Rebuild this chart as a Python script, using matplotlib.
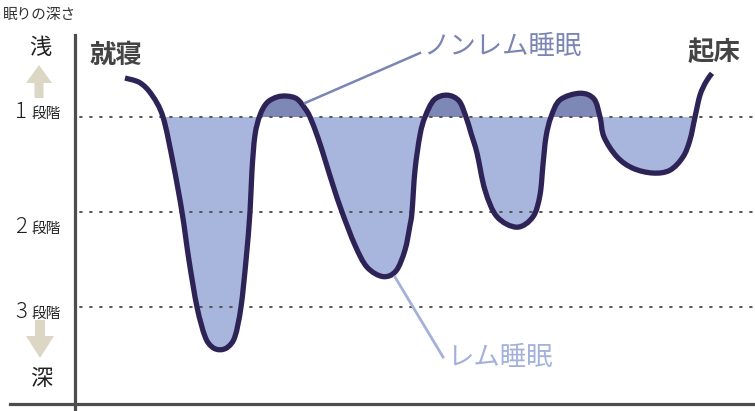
import matplotlib.pyplot as plt
import matplotlib.patches as patches
from matplotlib.path import Path
import numpy as np

plt.rcParams['font.family'] = ['Noto Sans CJK JP', 'DejaVu Sans']
plt.rcParams['lines.scale_dashes'] = False

# 睡眠の深さの推移 (x: 時間, y: 深さ 1=1段階 ... 3=3段階)
sleep_x = [125, 140, 152, 163, 173, 182, 189, 197, 205, 212, 220, 228, 235, 241, 246,
           250, 252, 255, 260, 267, 277, 287, 297, 305, 310, 318, 325, 333, 342, 355,
           367, 383, 396, 405, 410, 412, 415, 420, 425, 434, 447, 459, 466, 471, 477,
           485, 497, 517, 533, 540, 543, 546, 551, 560, 580, 594, 600, 604, 617, 633,
           653, 670, 683, 690, 695, 700, 706, 712]
sleep_depth = [0.59, 0.64, 0.77, 1.00, 1.48, 2.00, 2.51, 3.00, 3.31, 3.42, 3.45, 3.42, 3.31, 3.00, 2.51,
               2.00, 1.56, 1.19, 0.98, 0.85, 0.79, 0.78, 0.81, 0.91, 1.00, 1.22, 1.45, 1.72, 2.00, 2.35,
               2.58, 2.68, 2.62, 2.40, 2.14, 2.00, 1.56, 1.19, 1.00, 0.82, 0.77, 0.83, 1.00, 1.17, 1.38,
               1.77, 2.05, 2.16, 2.05, 1.82, 1.50, 1.21, 1.00, 0.82, 0.75, 0.81, 1.00, 1.21, 1.42, 1.54,
               1.59, 1.56, 1.42, 1.24, 1.00, 0.77, 0.63, 0.54]

stages = [1, 2, 3]
stage_labels = ['1', '2', '3']
fill_start, fill_end = 163, 695

# 色
curve_color = '#2e2356'
light_fill = '#a8b5dc'
dark_fill = '#7e88b6'
axis_color = '#4d4d4d'
arrow_color = '#dcd7c4'


def d(px):
    # ピクセルの縦位置 -> 深さ
    return (px - 22) / 95


def smooth_path(pts, i0, i1, close=False):
    # Catmull-Rom をベジェ曲線に変換
    verts = [pts[i0]]
    codes = [Path.MOVETO]
    n = len(pts)
    for i in range(i0, i1):
        p0 = pts[max(i - 1, 0)]
        p1 = pts[i]
        p2 = pts[i + 1]
        p3 = pts[min(i + 2, n - 1)]
        verts += [p1 + (p2 - p0) / 6, p2 - (p3 - p1) / 6, p2]
        codes += [Path.CURVE4] * 3
    if close:
        verts += [pts[i0], pts[i0]]
        codes += [Path.LINETO, Path.CLOSEPOLY]
    v = np.array(verts)
    v[:, 1] = v[:, 1] / 95
    return Path(v, codes)


fig = plt.figure(figsize=(7.55, 4.11), dpi=100)
ax = fig.add_axes([0, 0, 1, 1])
ax.set_xlim(0, 755)
ax.set_ylim(d(411), d(0))
ax.axis('off')

# 縦横比の違いを吸収するためピクセル空間でスムージング
pts_px = np.column_stack([sleep_x, np.array(sleep_depth) * 95])
i0 = sleep_x.index(fill_start)
i1 = sleep_x.index(fill_end)

curve = smooth_path(pts_px, 0, len(sleep_x) - 1)
area = smooth_path(pts_px, i0, i1, close=True)

# 塗り (1段階より下は薄い色、上は濃い色)
lower = patches.PathPatch(area, facecolor=light_fill, edgecolor='none', zorder=1)
ax.add_patch(lower)
lower.set_clip_path(patches.Rectangle((0, 1), 755, 5, transform=ax.transData))
upper = patches.PathPatch(area, facecolor=dark_fill, edgecolor='none', zorder=1)
ax.add_patch(upper)
upper.set_clip_path(patches.Rectangle((0, -1), 755, 2, transform=ax.transData))

# 点線
for s in stages:
    ax.plot([80, 755], [s, s], color='#555555', linewidth=1.4,
            dashes=(1.3, 5.9), dash_capstyle='round', zorder=2)

# 曲線
ax.add_patch(patches.PathPatch(curve, facecolor='none', edgecolor=curve_color,
                               linewidth=3.8, joinstyle='round', capstyle='butt', zorder=3))

# 軸
ax.plot([75, 75], [d(35), d(411)], color=axis_color, linewidth=2.3, zorder=4)
ax.plot([10, 755], [d(404), d(404)], color=axis_color, linewidth=2.3, zorder=4)

# 矢印
ax.add_patch(patches.FancyArrow(39, d(98), 0, d(65) - d(98), width=9, head_width=26,
                                head_length=d(83) - d(65), length_includes_head=True,
                                color=arrow_color, linewidth=0))
ax.add_patch(patches.FancyArrow(40, d(320), 0, d(358) - d(320), width=10, head_width=28,
                                head_length=d(358) - d(336), length_includes_head=True,
                                color=arrow_color, linewidth=0))

# 左側のラベル
ax.text(3, d(15), '眠りの深さ', fontsize=10.5, color='#333333', ha='left', va='center')
ax.text(40, d(47), '浅', fontsize=16, color='#222222', ha='center', va='center')
ax.text(41, d(378), '深', fontsize=16, color='#222222', ha='center', va='center')
for s, lab, base in zip(stages, stage_labels, [118, 233, 318]):
    ax.text(27, d(base), lab, fontsize=16, color='#222222', ha='right', va='baseline',
            fontweight='light')
    ax.text(31, d(base), '段階', fontsize=10.5, color='#222222', ha='left', va='baseline')

# 就寝・起床
ax.text(116, d(55), '就寝', fontsize=19, color='#444444', ha='center', va='center',
        fontweight='bold')
ax.text(714, d(52), '起床', fontsize=19, color='#444444', ha='center', va='center',
        fontweight='bold')

# 注記
ax.plot([305, 420], [d(103), d(53)], color='#7a85b3', linewidth=1.8, zorder=5)
ax.text(423, d(47), 'ノンレム睡眠', fontsize=19, color='#7a85b3', ha='left', va='center')
ax.plot([395, 443], [d(277), d(357)], color='#a4b1da', linewidth=2, zorder=5)
ax.text(447, d(357), 'レム睡眠', fontsize=19, color='#a4b1da', ha='left', va='center')

fig.savefig('out.png', dpi=100)
